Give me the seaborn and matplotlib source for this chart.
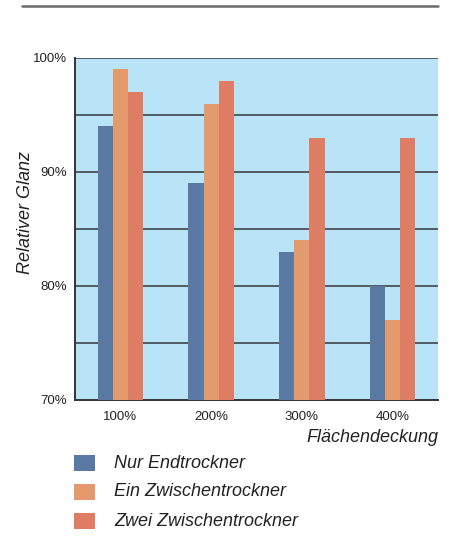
import matplotlib
matplotlib.use("Agg")
import matplotlib.pyplot as plt
from matplotlib.lines import Line2D
from matplotlib.patches import Rectangle
import seaborn as sns
import pandas as pd

categories = ["100%", "200%", "300%", "400%"]
series_names = ["Nur Endtrockner", "Ein Zwischentrockner", "Zwei Zwischentrockner"]
nur_endtrockner = [94, 89, 83, 80]
ein_zwischentrockner = [99, 96, 84, 77]
zwei_zwischentrockner = [97, 98, 93, 93]
y_ticks = [70, 80, 90, 100]
y_tick_labels = ["70%", "80%", "90%", "100%"]

colors = ["#5b7aa3", "#e39b6e", "#df7c64"]

df = pd.DataFrame({
    "Flächendeckung": categories * 3,
    "Glanz": nur_endtrockner + ein_zwischentrockner + zwei_zwischentrockner,
    "Serie": [s for s in series_names for _ in categories],
})

sns.set_style("white")
plt.rcParams["font.family"] = ["Liberation Sans Narrow", "Liberation Sans", "DejaVu Sans"]

fig = plt.figure(figsize=(4.49, 5.5), dpi=100)
ax = fig.add_axes([75 / 449, 150 / 550, 363 / 449, 342 / 550])
ax.set_facecolor("#b9e4f8")

sns.barplot(data=df, x="Flächendeckung", y="Glanz", hue="Serie",
            palette=colors, width=0.5, gap=0, saturation=1,
            edgecolor="none", linewidth=0, legend=False, ax=ax, zorder=3)

ax.set_ylim(70, 100)
ax.set_xlim(-0.5, 3.5)

# horizontal grid every 5 %
for v in [75, 80, 85, 90, 95, 100]:
    ax.axhline(v, color="#4a5056", lw=1.3, zorder=2)

ax.set_yticks(y_ticks)
ax.set_yticklabels(y_tick_labels, fontsize=9.5, color="#222222")
ax.tick_params(axis="y", length=0, pad=6)

ax.set_xticks(range(len(categories)))
ax.set_xticklabels(categories, fontsize=9.5, color="#222222")
ax.set_xticks([0.5, 1.5, 2.5], minor=True)
ax.tick_params(axis="x", which="major", length=0, pad=8)
ax.tick_params(axis="x", which="minor", length=6, width=1.2, color="#444444", direction="out")

for side in ["top", "right"]:
    ax.spines[side].set_visible(False)
for side in ["left", "bottom"]:
    ax.spines[side].set_color("#333333")
    ax.spines[side].set_linewidth(1.4)

ax.set_xlabel("")
ax.set_ylabel("")
fig.text(438 / 449, 1 - 437 / 550, "Flächendeckung", ha="right", va="center",
         fontsize=13, style="italic", color="#222222")
fig.text(26 / 449, 1 - 213 / 550, "Relativer Glanz", ha="center", va="center",
         rotation=90, fontsize=13, style="italic", color="#222222")

# rule across the top
fig.add_artist(Line2D([22 / 449, 438 / 449], [1 - 6 / 550, 1 - 6 / 550],
                      color="#6b6b6b", lw=1.8, transform=fig.transFigure))

# legend
for i, (name, c) in enumerate(zip(series_names, colors)):
    yc = 463 + i * 29
    fig.add_artist(Rectangle((74 / 449, 1 - (yc + 8) / 550), 21 / 449, 16 / 550,
                             facecolor=c, edgecolor="none", transform=fig.transFigure))
    fig.text(114 / 449, 1 - yc / 550, name, ha="left", va="center",
             fontsize=13, style="italic", color="#222222")

fig.savefig("out.png", dpi=100, facecolor="white")
